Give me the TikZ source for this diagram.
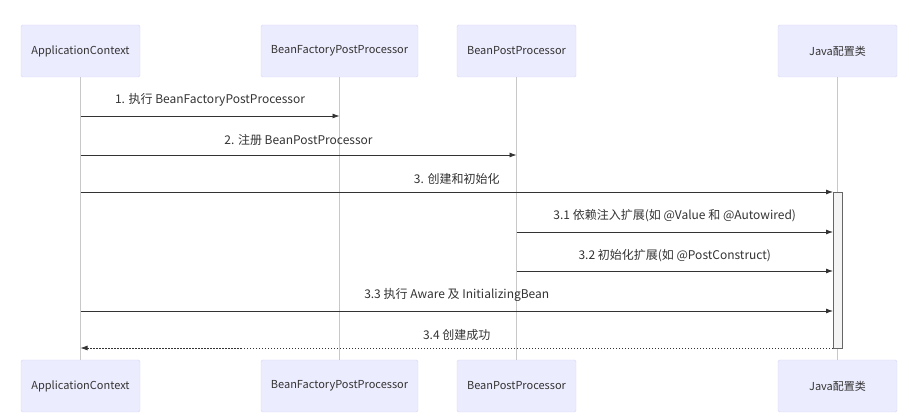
\documentclass[tikz,border=0pt]{standalone}
\usepackage{fontspec}
\setmainfont{Noto Sans CJK SC}
\usetikzlibrary{arrows.meta}
\definecolor{actorfill}{HTML}{ECECFF}
\definecolor{actorline}{HTML}{D6D6F5}
\definecolor{lifeline}{HTML}{C8C8C8}
\definecolor{msgline}{HTML}{333333}
\definecolor{actfill}{HTML}{F4F4F4}

\begin{document}
\begin{tikzpicture}[x=1pt,y=-1pt,
	actor/.style={draw=actorline,fill=actorfill,rounded corners=1.5pt,minimum width=119pt,minimum height=52pt,inner sep=0pt,font=\fontsize{11}{13}\selectfont,text=msgline},
	life/.style={draw=lifeline,line width=0.6pt},
	msg/.style={draw=msgline,line width=0.8pt,-{Latex[length=7pt,width=5pt]}},
	reply/.style={msg,dash pattern=on 1.5pt off 1.5pt},
	lbl/.style={font=\fontsize{12}{14}\selectfont,text=msgline,inner sep=0pt}]
	 \useasboundingbox (0,0) rectangle (914,419);
	 %Actors top
	 \node[actor] (ac) at (80.5,51) {ApplicationContext};
	 \node[actor,minimum width=157pt] (bf) at (339.5,51) {BeanFactoryPostProcessor};
	 \node[actor] (bp) at (516.5,51) {BeanPostProcessor};
	 \node[actor] (jc) at (837.5,51) {Java配置类};
	 %Actors bottom
	 \node[actor] (ac2) at (80.5,386) {ApplicationContext};
	 \node[actor,minimum width=157pt] (bf2) at (339.5,386) {BeanFactoryPostProcessor};
	 \node[actor] (bp2) at (516.5,386) {BeanPostProcessor};
	 \node[actor] (jc2) at (837.5,386) {Java配置类};
	 
	 %Lifelines
	 \draw[life] (ac) to (ac2);
	 \draw[life] (bf) to (bf2);
	 \draw[life] (bp) to (bp2);
	 \draw[life] (jc) to (jc2);
	 
	 %Activation
	 \draw[draw=black!60,fill=actfill,line width=0.6pt] (833,192) rectangle (842,348);
	 
	 %Message points
	 \coordinate (ac1) at (80.5,116);
	 \coordinate (bf1) at (339.5,116);
	 \coordinate (ac2m) at (80.5,155);
	 \coordinate (bp2m) at (516.5,155);
	 \coordinate (ac3) at (80.5,192);
	 \coordinate (jc3) at (833,192);
	 \coordinate (bp31) at (516.5,232);
	 \coordinate (jc31) at (833,232);
	 \coordinate (bp32) at (516.5,271);
	 \coordinate (jc32) at (833,271);
	 \coordinate (ac33) at (80.5,311);
	 \coordinate (jc33) at (833,311);
	 \coordinate (jc34) at (833,348);
	 \coordinate (ac34) at (80.5,348);
	 
	 %Messages
	 \draw[msg] (ac1) to node[lbl,above=9pt] (l1) {1. 执行 BeanFactoryPostProcessor} (bf1);
	 \draw[msg] (ac2m) to node[lbl,above=9pt] (l2) {2. 注册 BeanPostProcessor} (bp2m);
	 \draw[msg] (ac3) to node[lbl,above=7pt] (l3) {3. 创建和初始化} (jc3);
	 \draw[msg] (bp31) to node[lbl,above=10pt] (l31) {3.1 依赖注入扩展(如 @Value 和 @Autowired)} (jc31);
	 \draw[msg] (bp32) to node[lbl,above=9pt] (l32) {3.2 初始化扩展(如 @PostConstruct)} (jc32);
	 \draw[msg] (ac33) to node[lbl,above=9pt] (l33) {3.3 执行 Aware 及 InitializingBean} (jc33);
	 \draw[reply] (jc34) to node[lbl,above=7pt] (l34) {3.4 创建成功} (ac34);
\end{tikzpicture}
\end{document}
